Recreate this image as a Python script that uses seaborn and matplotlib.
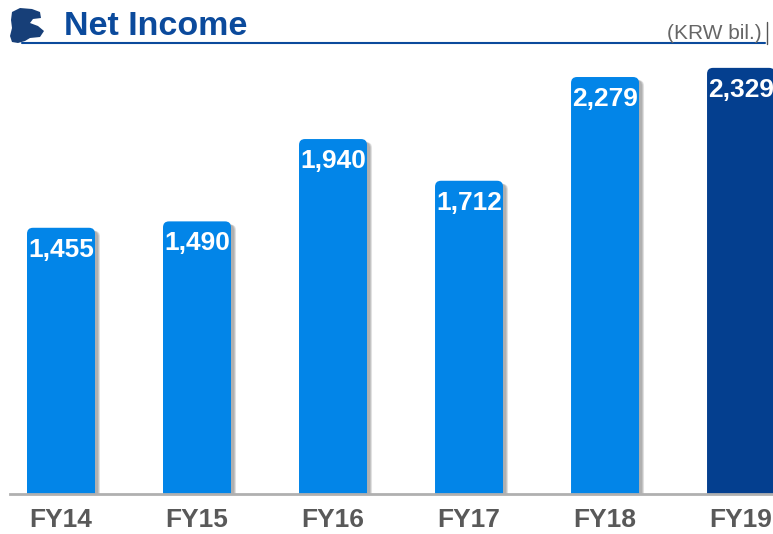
import seaborn as sns
import pandas as pd
import matplotlib.pyplot as plt
from matplotlib.patches import FancyBboxPatch, Polygon
from matplotlib.lines import Line2D

years = ['FY14', 'FY15', 'FY16', 'FY17', 'FY18', 'FY19']
net_income = [1455, 1490, 1940, 1712, 2279, 2329]
bar_colors = ['#0285e8', '#0285e8', '#0285e8', '#0285e8', '#0285e8', '#043f8f']

sns.set_theme(style='white')
plt.rcParams['font.family'] = ['Liberation Sans', 'DejaVu Sans']

df = pd.DataFrame({'year': years, 'value': net_income})

W, H = 773, 534
fig = plt.figure(figsize=(W / 100, H / 100), dpi=100)
ax = fig.add_axes([10 / W, 40 / H, 763 / W, 434 / H])

sns.barplot(data=df, x='year', y='value', hue='year', palette=bar_colors,
            width=0.5, legend=False, ax=ax, saturation=1)

ax.set_xlim(-0.375, 5.235)
ax.set_ylim(0, 2372)

# size of one pixel in data units
px_x = 5.61 / 763
px_y = 2372 / 434

# swap plain bars for rounded ones with a soft shadow
for patch in list(ax.patches):
    x, w, h = patch.get_x(), patch.get_width(), patch.get_height()
    color = patch.get_facecolor()
    patch.set_visible(False)
    r = 6 * px_x
    aspect = px_y / px_x
    for k, a in [(5, 0.25), (4, 0.35), (3, 0.35)]:
        shadow = FancyBboxPatch((x + k * px_x, -20 * px_y), w, h + 20 * px_y - 3 * px_y,
                                boxstyle='round,pad=0,rounding_size=%f' % r,
                                mutation_aspect=aspect, facecolor='#8c8c8c',
                                edgecolor='none', alpha=a, zorder=1)
        ax.add_patch(shadow)
    bar = FancyBboxPatch((x, -20 * px_y), w, h + 20 * px_y,
                         boxstyle='round,pad=0,rounding_size=%f' % r,
                         mutation_aspect=aspect, facecolor=color,
                         edgecolor='none', zorder=2)
    ax.add_patch(bar)

# value labels inside bar tops
for i, v in enumerate(net_income):
    ax.text(i, v - 10 * px_y, '{:,}'.format(v), ha='center', va='top',
            color='white', fontsize=19, fontweight='bold', zorder=3)

sns.despine(ax=ax, left=True, top=True, right=True)
ax.spines['bottom'].set_color('#b0b0b0')
ax.spines['bottom'].set_linewidth(2)
ax.spines['bottom'].set_zorder(4)
ax.set_yticks([])
ax.set_xlabel('')
ax.set_ylabel('')
ax.tick_params(axis='x', length=0, pad=10, labelsize=19, labelcolor='#595959')
for lbl in ax.get_xticklabels():
    lbl.set_fontweight('bold')

# header
fig.text(64 / W, 1 - 35 / H, 'Net Income', fontsize=24.5, fontweight='bold',
         color='#0b4a9c', va='baseline', ha='left')
fig.text(762 / W, 1 - 39 / H, '(KRW bil.)', fontsize=15, color='#666666',
         va='baseline', ha='right')
fig.add_artist(Line2D([22 / W, 765 / W], [1 - 43 / H, 1 - 43 / H],
                      color='#0b4a9c', lw=1.5))
fig.add_artist(Line2D([767 / W, 767 / W], [1 - 44 / H, 1 - 22 / H],
                      color='#555555', lw=1))

# rough logo mark
logo_px = [(12, 12), (20, 8), (32, 9), (40, 12), (41, 18), (33, 19), (30, 23),
           (38, 26), (44, 31), (40, 37), (30, 38), (25, 41), (18, 43), (12, 42),
           (10, 36), (12, 28), (11, 20)]
fig.add_artist(Polygon([(px / W, 1 - py / H) for px, py in logo_px],
                       closed=True, facecolor='#173f78', edgecolor='none'))

plt.savefig('out.png', dpi=100)
